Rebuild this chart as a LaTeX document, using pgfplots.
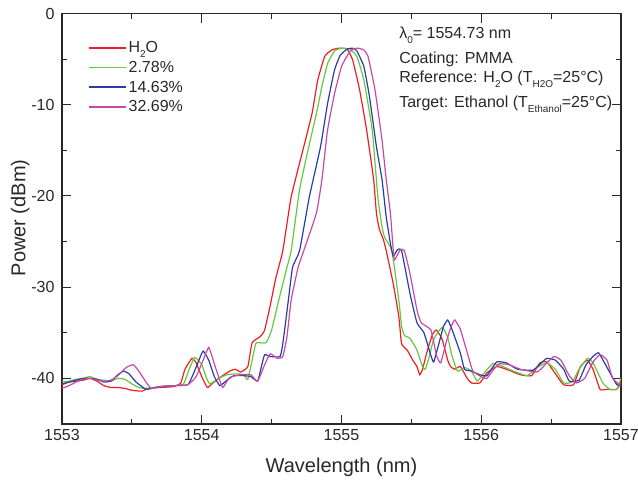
\documentclass[border=0pt]{standalone}
\usepackage{pgfplots}
\pgfplotsset{compat=1.18}
\usepackage{fontspec}
\setmainfont{Liberation Sans}
\definecolor{cR}{RGB}{240,30,36}
\definecolor{cG}{RGB}{102,200,60}
\definecolor{cB}{RGB}{40,62,165}
\definecolor{cM}{RGB}{200,72,170}
\definecolor{ax}{RGB}{40,40,40}
\newcommand{\sub}[1]{\raisebox{-0.32em}{\fontsize{10}{10}\selectfont #1}}

\pgfplotstableread{
x y
1553.00 -40.7
1553.05 -40.4
1553.10 -40.3
1553.15 -40.2
1553.20 -40.0
1553.25 -40.3
1553.30 -40.8
1553.35 -41.0
1553.40 -41.0
1553.45 -41.1
1553.50 -41.3
1553.57 -41.4
1553.62 -41.1
1553.70 -41.0
1553.80 -40.9
1553.85 -40.5
1553.88 -39.0
1553.93 -37.8
1553.96 -38.3
1554.00 -39.8
1554.04 -41.0
1554.08 -40.5
1554.14 -39.8
1554.20 -39.2
1554.24 -39.0
1554.28 -39.3
1554.33 -38.7
1554.36 -36.1
1554.42 -35.4
1554.45 -34.7
1554.49 -32.0
1554.53 -29.0
1554.58 -26.0
1554.64 -20.1
1554.73 -14.6
1554.79 -10.9
1554.83 -7.3
1554.88 -4.7
1554.93 -4.0
1554.98 -3.8
1555.04 -3.9
1555.08 -5.1
1555.13 -8.4
1555.18 -12.8
1555.23 -18.2
1555.25 -21.9
1555.27 -23.6
1555.30 -24.8
1555.32 -26.0
1555.37 -29.6
1555.41 -33.2
1555.43 -36.2
1555.47 -36.9
1555.51 -38.0
1555.54 -38.7
1555.56 -39.6
1555.58 -39.0
1555.61 -37.2
1555.65 -35.2
1555.68 -34.7
1555.72 -35.7
1555.76 -38.0
1555.78 -38.7
1555.81 -39.0
1555.85 -38.7
1555.90 -40.0
1555.93 -40.5
1555.99 -40.5
1556.04 -39.4
1556.11 -38.7
1556.18 -39.0
1556.28 -39.6
1556.36 -39.7
1556.42 -38.3
1556.47 -38.2
1556.54 -39.7
1556.59 -40.7
1556.66 -40.7
1556.71 -38.7
1556.76 -38.0
1556.80 -39.0
1556.85 -41.2
1556.90 -41.2
1556.97 -41.2
1557.00 -40.4
}\dataR

\pgfplotstableread{
x y
1553.00 -40.4
1553.05 -40.3
1553.10 -40.1
1553.15 -40.0
1553.20 -39.8
1553.25 -40.1
1553.30 -40.2
1553.35 -40.3
1553.40 -40.0
1553.45 -40.1
1553.50 -40.6
1553.55 -41.0
1553.60 -41.1
1553.70 -40.9
1553.80 -40.8
1553.87 -40.6
1553.91 -39.0
1553.95 -37.7
1554.00 -38.5
1554.04 -40.2
1554.06 -40.6
1554.12 -40.0
1554.18 -39.6
1554.25 -39.5
1554.30 -39.6
1554.33 -40.1
1554.37 -37.3
1554.39 -36.1
1554.46 -36.1
1554.50 -34.7
1554.55 -31.5
1554.61 -27.8
1554.64 -26.0
1554.70 -19.3
1554.76 -15.0
1554.82 -11.0
1554.86 -8.0
1554.90 -5.5
1554.95 -4.1
1555.00 -3.8
1555.06 -3.9
1555.11 -4.7
1555.16 -7.3
1555.22 -12.8
1555.26 -20.1
1555.29 -23.4
1555.31 -24.6
1555.36 -26.0
1555.41 -31.4
1555.43 -34.3
1555.45 -35.3
1555.49 -35.6
1555.54 -36.9
1555.58 -38.7
1555.60 -39.0
1555.63 -37.5
1555.66 -35.7
1555.72 -34.4
1555.76 -35.5
1555.79 -37.5
1555.83 -39.2
1555.88 -38.8
1555.93 -39.2
1555.97 -40.3
1556.01 -39.6
1556.08 -38.4
1556.14 -38.6
1556.23 -39.2
1556.33 -39.7
1556.40 -38.8
1556.47 -38.3
1556.53 -39.0
1556.59 -40.5
1556.65 -40.4
1556.70 -39.0
1556.76 -37.8
1556.80 -38.3
1556.87 -40.5
1556.92 -41.2
1556.97 -41.2
1557.00 -40.0
}\dataG

\pgfplotstableread{
x y
1553.00 -40.6
1553.05 -40.4
1553.10 -40.2
1553.15 -40.0
1553.20 -40.0
1553.25 -40.1
1553.30 -40.4
1553.35 -40.3
1553.40 -39.6
1553.44 -39.2
1553.48 -39.5
1553.53 -40.4
1553.58 -41.0
1553.61 -41.2
1553.70 -40.9
1553.80 -40.8
1553.90 -40.7
1553.94 -39.5
1553.98 -38.0
1554.01 -37.0
1554.05 -38.0
1554.09 -39.8
1554.13 -40.8
1554.18 -40.2
1554.23 -39.7
1554.30 -39.7
1554.35 -39.8
1554.40 -40.3
1554.43 -38.5
1554.45 -37.4
1554.49 -37.6
1554.56 -37.6
1554.58 -36.2
1554.62 -31.4
1554.65 -27.8
1554.70 -26.0
1554.77 -20.1
1554.85 -14.6
1554.90 -9.9
1554.95 -6.2
1554.99 -4.6
1555.04 -3.9
1555.08 -3.8
1555.11 -4.1
1555.16 -5.8
1555.20 -9.1
1555.25 -14.6
1555.29 -18.2
1555.32 -22.3
1555.35 -25.2
1555.37 -26.6
1555.40 -25.9
1555.43 -26.0
1555.49 -30.7
1555.54 -33.9
1555.59 -35.0
1555.64 -37.5
1555.66 -38.2
1555.70 -36.0
1555.73 -34.3
1555.76 -33.6
1555.79 -34.6
1555.85 -37.2
1555.88 -39.0
1555.93 -39.2
1555.99 -39.6
1556.04 -39.7
1556.11 -38.2
1556.18 -38.3
1556.26 -39.0
1556.37 -39.1
1556.43 -38.3
1556.47 -37.8
1556.53 -38.0
1556.59 -39.0
1556.63 -40.3
1556.70 -40.2
1556.75 -38.5
1556.80 -37.6
1556.84 -37.2
1556.90 -38.8
1556.97 -40.7
1557.00 -40.7
}\dataB

\pgfplotstableread{
x y
1553.00 -41.1
1553.05 -40.8
1553.10 -40.4
1553.15 -40.1
1553.20 -40.0
1553.25 -40.2
1553.30 -40.3
1553.35 -40.2
1553.40 -39.7
1553.46 -38.8
1553.51 -38.5
1553.55 -39.2
1553.61 -40.6
1553.64 -41.1
1553.70 -40.9
1553.80 -40.8
1553.90 -40.7
1553.96 -39.8
1554.01 -38.0
1554.05 -36.6
1554.09 -38.4
1554.12 -39.8
1554.15 -41.0
1554.20 -39.9
1554.28 -39.6
1554.35 -39.6
1554.40 -40.3
1554.45 -38.5
1554.49 -37.3
1554.54 -37.8
1554.58 -37.6
1554.61 -35.4
1554.64 -31.4
1554.69 -27.8
1554.73 -26.0
1554.82 -21.9
1554.86 -18.2
1554.90 -12.8
1554.95 -8.8
1555.00 -5.8
1555.05 -4.4
1555.08 -3.9
1555.12 -3.8
1555.16 -4.0
1555.19 -4.7
1555.24 -8.4
1555.29 -13.9
1555.32 -18.2
1555.35 -21.9
1555.37 -25.9
1555.38 -27.0
1555.42 -25.9
1555.45 -26.0
1555.49 -28.5
1555.54 -32.5
1555.57 -33.9
1555.64 -34.7
1555.68 -37.5
1555.71 -38.3
1555.75 -36.0
1555.78 -34.5
1555.81 -33.6
1555.85 -34.6
1555.90 -37.2
1555.94 -39.2
1556.00 -39.8
1556.04 -40.0
1556.09 -39.0
1556.13 -38.4
1556.20 -38.5
1556.28 -39.0
1556.40 -39.3
1556.47 -38.3
1556.52 -37.6
1556.57 -38.0
1556.63 -39.7
1556.68 -40.5
1556.74 -40.0
1556.80 -38.2
1556.85 -37.4
1556.90 -38.0
1556.94 -40.0
1557.00 -40.8
}\dataM

\begin{document}
\begin{tikzpicture}[font=\fontsize{16}{19}\selectfont]
\path[use as bounding box] (-62pt,-61pt) rectangle (576pt,424pt);
\begin{axis}[
  at={(0,0)}, anchor=south west,
  scale only axis, width=559pt, height=410.5pt,
  xmin=1553, xmax=1557, ymin=-45, ymax=0,
  xtick={1553,1554,1555,1556,1557},
  ytick={-40,-30,-20,-10,0},
  minor x tick num=1, minor y tick num=1,
  tick align=inside,
  major tick length=9pt, minor tick length=5pt,
  axis line style={line width=1.1pt, color=ax},
  every tick/.style={line width=1pt, color=ax},
  /pgf/number format/assume math mode=true,
  /pgf/number format/1000 sep={},
  ticklabel style={text=ax},
  xticklabel style={yshift=-2pt},
  yticklabel style={xshift=-4pt},
  xlabel={Wavelength (nm)},
  ylabel={Power (dBm)},
  label style={font=\fontsize{20}{24}\selectfont, text=ax},
  xlabel style={at={(axis description cs:0.5,-0.105)}, anchor=center},
  ylabel style={at={(axis description cs:-0.075,0.502)}, anchor=center, rotate=0},
  legend cell align=left,
  legend style={draw=none, fill=none, inner sep=0pt,
    at={(axis description cs:0.046,0.937)}, anchor=north west,
    row sep=3pt, text=ax},
  legend image code/.code={\draw[#1, line width=1.7pt, sharp plot] plot coordinates {(0pt,0pt) (18pt,0pt) (37pt,0pt)};},
  every axis plot/.append style={line width=1.2pt, smooth, tension=0.25},
]
\addplot[cR] table[x=x,y=y] {\dataR};
\addlegendentry{H\sub{2}O\rule[-9pt]{0pt}{1pt}}
\addplot[cG] table[x=x,y=y] {\dataG};
\addlegendentry{2.78\%}
\addplot[cB] table[x=x,y=y] {\dataB};
\addlegendentry{14.63\%}
\addplot[cM] table[x=x,y=y] {\dataM};
\addlegendentry{32.69\%}

\node[anchor=base west, inner sep=0pt, text=ax] at (axis description cs:0.603,0.940) {λ\sub{0}= 1554.73 nm};
\node[anchor=base west, inner sep=0pt, text=ax] at (axis description cs:0.603,0.879) {Coating: PMMA};
\node[anchor=base west, inner sep=0pt, text=ax] at (axis description cs:0.603,0.831) {Reference: H\sub{2}O (T\sub{H2O}=25°C)};
\node[anchor=base west, inner sep=0pt, text=ax] at (axis description cs:0.603,0.772) {Target: Ethanol (T\sub{Ethanol}=25°C)};
\end{axis}
\end{tikzpicture}
\end{document}
